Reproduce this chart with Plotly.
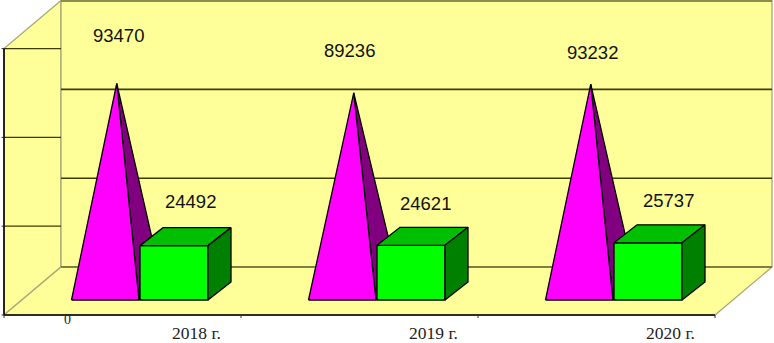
import plotly.graph_objects as go

# ---- data ----
categories = ["2018 г.", "2019 г.", "2020 г."]
pyramid_values = [93470, 89236, 93232]
box_values = [24492, 24621, 25737]
grid_values = [0, 40000, 80000, 120000]
zero_label = "0"

# ---- layout constants (axis units: x = category bands, y = value) ----
W, H = 774, 343
PX_PER_CAT = 237.0
PX_PER_VAL = 0.00222
X0_PX, Y0_PX = 4.0, 315.0
WALL_DX, WALL_DY = 57.0, 48.0
BAR_DX, BAR_DY = 23.0, 18.0
BAR_LEFT = 67.5 / PX_PER_CAT
BAR_W = 68.0 / PX_PER_CAT
BAR_LIFT = 15.0 / PX_PER_VAL
PYR_W = 67.5 / PX_PER_CAT

WALL = "#FFFF99"
EDGE = "#A8A878"
GRID = "#3C3C00"
INK = "#000000"


def wx(u, d=0.0):
    return u + d * WALL_DX / PX_PER_CAT


def wy(v, d=0.0):
    return v + d * WALL_DY / PX_PER_VAL


def bx(u, d=0.0):
    return u + d * BAR_DX / PX_PER_CAT


def by(v, d=0.0):
    return v + BAR_LIFT + d * BAR_DY / PX_PER_VAL


fig = go.Figure()


def poly(xs, ys, fill, line=INK, width=1.3):
    fig.add_trace(go.Scatter(x=xs + xs[:1], y=ys + ys[:1], mode="lines", fill="toself",
                             fillcolor=fill, line=dict(color=line, width=width),
                             hoverinfo="skip", showlegend=False))


def seg(xs, ys, color=INK, width=1.3):
    fig.add_trace(go.Scatter(x=xs, y=ys, mode="lines", line=dict(color=color, width=width),
                             hoverinfo="skip", showlegend=False))


n = len(categories)
top = grid_values[-1]
# walls and floor
poly([wx(0), wx(0, 1), wx(0, 1), wx(0)], [wy(0), wy(0, 1), wy(top, 1), wy(top)], WALL, EDGE)
poly([wx(0, 1), wx(n, 1), wx(n, 1), wx(0, 1)], [wy(0, 1), wy(0, 1), wy(top, 1), wy(top, 1)], WALL, EDGE)
poly([wx(0), wx(n), wx(n, 1), wx(0, 1)], [wy(0), wy(0), wy(0, 1), wy(0, 1)], WALL, EDGE)

# gridlines
for g in grid_values[1:]:
    seg([wx(0, 1), wx(n, 1)], [wy(g, 1), wy(g, 1)], GRID, 1.6)
    if g == top:
        seg([wx(0, 1), wx(n, 1)], [wy(g, 1), wy(g, 1)], "#8C8C50", 2)
for g in grid_values[:-1]:
    seg([wx(0), wx(0, 1)], [wy(g + top / 3), wy(g + top / 3)], GRID, 1.3)
seg([wx(0, 1), wx(n, 1)], [wy(0, 1), wy(0, 1)], "#6E6E30", 1.3)

# axes
seg([wx(0), wx(0)], [wy(0), wy(top)], INK, 1.6)
seg([wx(0), wx(n)], [wy(0), wy(0)], INK, 1.6)
for i in range(n + 1):
    seg([wx(i), wx(i)], [wy(0), wy(-3 / PX_PER_VAL)], "#333333", 1)
for g in grid_values:
    seg([wx(-2.5 / PX_PER_CAT), wx(0)], [wy(g), wy(g)], "#333333", 1)

# bars
for i in range(n):
    # pyramid
    L = i + BAR_LEFT
    R = L + PYR_W
    apex = (bx(L + PYR_W / 2, 0.5), by(pyramid_values[i], 0.5))
    poly([apex[0], bx(R), bx(R, 1)], [apex[1], by(0), by(0, 1)], "#800080")
    poly([bx(L), bx(R), apex[0]], [by(0), by(0), apex[1]], "#FF00FF")
    # box
    a = R + 1 / PX_PER_CAT
    b = a + BAR_W
    v = box_values[i]
    poly([a, b, b, a], [by(0), by(0), by(v), by(v)], "#00FF00")
    poly([a, b, bx(b, 1), bx(a, 1)], [by(v), by(v), by(v, 1), by(v, 1)], "#00BE00")
    poly([b, bx(b, 1), bx(b, 1), b], [by(0), by(0, 1), by(v, 1), by(v)], "#008000")

# value labels: hand-placed in the source, so nudged per label (px)
pyr_nudge = [(2, 48), (-4, 42), (2, 32)]
box_nudge = [(-7, 41), (-9, 39), (-3, 39)]
for i in range(n):
    L = i + BAR_LEFT
    R = L + PYR_W
    a = R + 1 / PX_PER_CAT
    fig.add_annotation(x=bx(L + PYR_W / 2, 0.5), y=by(pyramid_values[i], 0.5), text=str(pyramid_values[i]),
                       xref="x", yref="y", showarrow=False, xshift=pyr_nudge[i][0], yshift=pyr_nudge[i][1],
                       font=dict(family="Liberation Sans", size=18.5, color="#111111"))
    fig.add_annotation(x=bx(a + BAR_W / 2, 1), y=by(box_values[i], 1), text=str(box_values[i]),
                       xref="x", yref="y", showarrow=False, xshift=box_nudge[i][0], yshift=box_nudge[i][1] - 15,
                       font=dict(family="Liberation Sans", size=18.5, color="#111111"))
    fig.add_annotation(x=wx(i + 0.5), y=wy(0), text=categories[i], xref="x", yref="y", showarrow=False,
                       xshift=74, yshift=-18,
                       font=dict(family="Liberation Serif", size=17.5, color="#222222"))

fig.add_annotation(x=wx(0), y=wy(0), text=zero_label, xref="x", yref="y", showarrow=False,
                   xshift=63, yshift=-4, font=dict(family="Liberation Serif", size=14, color="#222222"))

fig.update_layout(
    width=W, height=H, margin=dict(l=0, r=0, t=0, b=0),
    paper_bgcolor="white", plot_bgcolor="white", showlegend=False,
    xaxis=dict(visible=False, range=[-X0_PX / PX_PER_CAT, (W - X0_PX) / PX_PER_CAT]),
    yaxis=dict(visible=False, range=[(Y0_PX - H) / PX_PER_VAL, Y0_PX / PX_PER_VAL]),
)
fig.write_html("out.html", config={"displayModeBar": False},
               post_script="document.body.style.margin='0';document.documentElement.style.overflow='hidden';")
